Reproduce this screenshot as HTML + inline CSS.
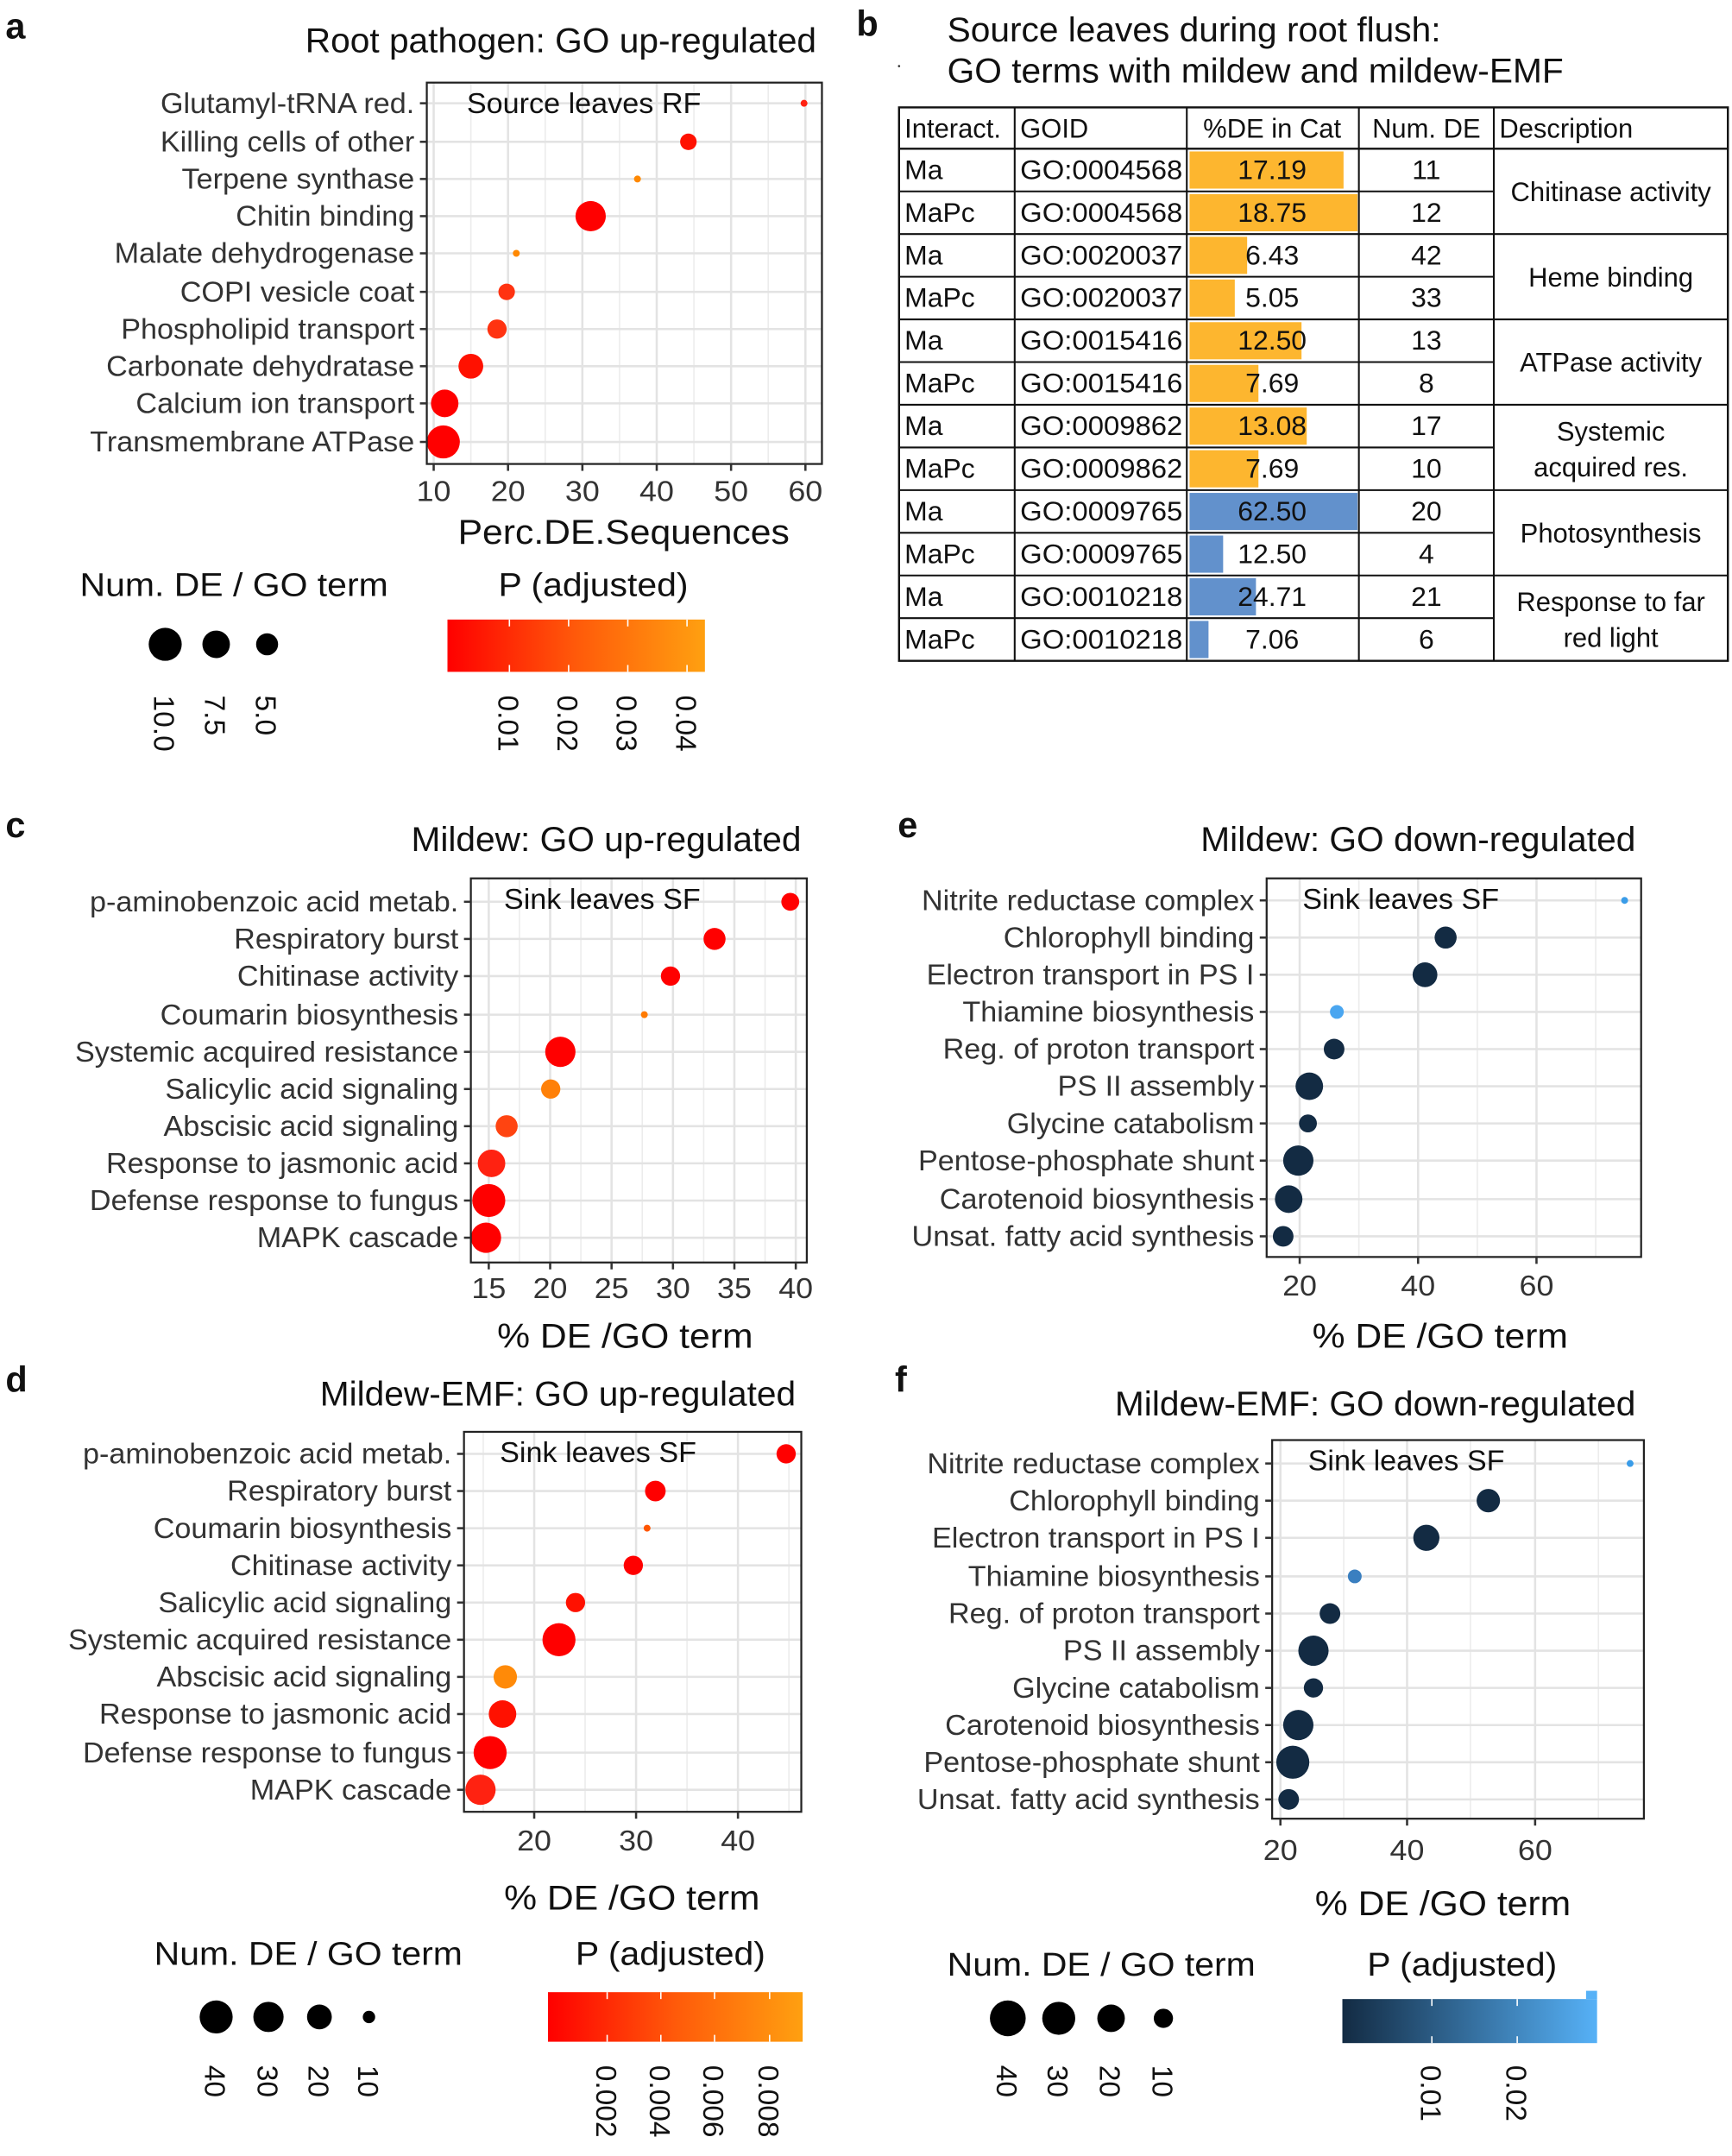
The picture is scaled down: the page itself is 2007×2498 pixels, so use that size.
<!DOCTYPE html>
<html><head><meta charset="utf-8">
<style>
html,body{margin:0;padding:0;background:#fff;}
svg{display:block;}
text{font-family:"Liberation Sans",sans-serif;fill:#111;}
</style></head>
<body>
<svg id="s" xmlns="http://www.w3.org/2000/svg" width="2007" height="2498" viewBox="0 0 1258 1566" preserveAspectRatio="none">
<defs>
<linearGradient id="gO" x1="0" x2="1" y1="0" y2="0"><stop offset="0" stop-color="#ff0000"/><stop offset="0.5" stop-color="#ff5a0a"/><stop offset="1" stop-color="#ffa010"/></linearGradient>
<linearGradient id="gB" x1="0" x2="1" y1="0" y2="0"><stop offset="0" stop-color="#132b43"/><stop offset="1" stop-color="#56b1f7"/></linearGradient>
</defs>
<g id="root"></g>
</svg>
<script>
var out=[];
function T(x,y,s,size,anchor,opts){opts=opts||{};var sx=opts.sx||1.07;var w=opts.bold?'font-weight="bold"':'';var rot=opts.rot?' rotate(90)':'';
out.push('<text transform="translate('+x+','+y+')'+rot+' scale('+sx+',1)" font-size="'+size+'" text-anchor="'+(anchor||'start')+'" '+w+(opts.fill?' style="fill:'+opts.fill+'"':'')+'>'+s+'</text>');}
function L(x1,y1,x2,y2,c,w){out.push('<line x1="'+x1+'" y1="'+y1+'" x2="'+x2+'" y2="'+y2+'" stroke="'+c+'" stroke-width="'+w+'"/>');}
function R(x,y,w,h,f,st,sw){out.push('<rect x="'+x+'" y="'+y+'" width="'+w+'" height="'+h+'" fill="'+f+'"'+(st?' stroke="'+st+'" stroke-width="'+(sw||1)+'"':'')+'/>');}
function C(x,y,r,f){out.push('<circle cx="'+x+'" cy="'+y+'" r="'+r+'" fill="'+f+'"/>');}

function panel(p){
  var b=p.box;
  R(b[0],b[1],b[2]-b[0],b[3]-b[1],'#fff');
  p.minor.forEach(function(x){L(x,b[1],x,b[3],'#ececec',1);});
  p.major.forEach(function(t){L(t[0],b[1],t[0],b[3],'#e3e3e3',1.6);});
  p.rows.forEach(function(r){L(b[0],r[1],b[2],r[1],'#e3e3e3',1.6);});
  p.pts.forEach(function(q){C(q[0],q[1],q[2],q[3]);});
  R(b[0],b[1],b[2]-b[0],b[3]-b[1],'none','#222',1.4);
  p.rows.forEach(function(r){L(b[0]-5,r[1],b[0],r[1],'#333',1.6);T(b[0]-9,r[1]+7,r[0],21,'end',{fill:'#333',sx:1.02});});
  p.major.forEach(function(t){L(t[0],b[3],t[0],b[3]+5,'#333',1.6);T(t[0],p.ty,t[1],21,'middle',{fill:'#333'});});
  T(b[0]+p.insx,b[1]+22,p.inset||'Sink leaves SF',21,'start',{sx:1.02});
  T(p.tx,p.tty,p.title,25,'end',{sx:1.02});
  T(p.ax,p.ay,p.axis,25,'middle');
}
var R_='#ff0000',O_='#ff7a00',D_='#132b43';

// panel a
T(4,28,'a',26,'start',{bold:1,sx:1});
panel({box:[310,60,597,337],
 major:[[315,'10'],[369,'20'],[423,'30'],[477,'40'],[531,'50'],[585,'60']],
 minor:[342,396,450,504,558],
 rows:[['Glutamyl-tRNA red.',75],['Killing cells of other',103],['Terpene synthase',130],['Chitin binding',157],['Malate dehydrogenase',184],['COPI vesicle coat',212],['Phospholipid transport',239],['Carbonate dehydratase',266],['Calcium ion transport',293],['Transmembrane ATPase',321]],
 pts:[[584,75,2.5,'#f21'],[500,103,6,'#f10'],[463,130,2.5,'#f80'],[429,157,11,R_],[375,184,2.5,'#f80'],[368,212,6,'#f31'],[361,239,7,'#f31'],[342,266,9,'#f10'],[323,293,10,R_],[322,321,12,R_]],
 ty:364,title:'Root pathogen: GO up-regulated',tx:593,tty:38,ax:453,ay:395,axis:'Perc.DE.Sequences',insx:29,inset:'Source leaves RF'});

// legend a
T(58,433,'Num. DE / GO term',24,'start');
C(120,468,12,'#000');C(157,468,10,'#000');C(194,468,8,'#000');
T(112,505,'10.0',21,'start',{rot:1,sx:1});T(149,505,'7.5',21,'start',{rot:1,sx:1});T(186,505,'5.0',21,'start',{rot:1,sx:1});
T(362,433,'P (adjusted)',24,'start');
R(325,450,187,38,'url(#gO)');
[370,413,456,499].forEach(function(x,i){L(x,450,x,455,'#fff',1);L(x,483,x,488,'#fff',1);T(x-8,505,'0.0'+(i+1),21,'start',{rot:1,sx:1});});

// panel b
T(622,26,'b',26,'start',{bold:1,sx:1});
T(688,30,'Source leaves during root flush:',25,'start',{sx:1.02});
T(688,60,'GO terms with mildew and mildew-EMF',25,'start',{sx:1.02});
out.push('<circle cx="653" cy="48" r="0.8" fill="#333"/>');
var cols=[653,737,862,987,1085,1255];
var tTop=78,hh=30,rh=31;
var data=[['Ma','GO:0004568','17.19',17.19,'11','o'],['MaPc','GO:0004568','18.75',18.75,'12','o'],
['Ma','GO:0020037','6.43',6.43,'42','o'],['MaPc','GO:0020037','5.05',5.05,'33','o'],
['Ma','GO:0015416','12.50',12.5,'13','o'],['MaPc','GO:0015416','7.69',7.69,'8','o'],
['Ma','GO:0009862','13.08',13.08,'17','o'],['MaPc','GO:0009862','7.69',7.69,'10','o'],
['Ma','GO:0009765','62.50',62.5,'20','b'],['MaPc','GO:0009765','12.50',12.5,'4','b'],
['Ma','GO:0010218','24.71',24.71,'21','b'],['MaPc','GO:0010218','7.06',7.06,'6','b']];
var y0=tTop+hh;
data.forEach(function(d,i){var y=y0+i*rh;var w=d[5]=='o'?d[3]/18.75*122:d[3]/62.5*122;
 R(864,y+2,w,rh-4,d[5]=='o'?'#fdb62f':'#6291cc');});
R(653,tTop,602,y0+12*rh-tTop,'none','#111',1.5);
L(653,y0,1255,y0,'#111',1.5);
for(var i=1;i<12;i++){var y=y0+i*rh;L(653,y,1085,y,'#111',1.3);if(i%2==0)L(1085,y,1255,y,'#111',1.3);}
cols.slice(1,5).forEach(function(x){L(x,tTop,x,y0+12*rh,'#111',1.3);});
T(657,100,'Interact.',20,'start',{sx:0.97});T(741,100,'GOID',20,'start',{sx:0.97});T(924,100,'%DE in Cat',20,'middle',{sx:0.97});T(1036,100,'Num. DE',20,'middle',{sx:0.97});T(1089,100,'Description',20,'start',{sx:0.97});
data.forEach(function(d,i){var y=y0+i*rh+22;T(657,y,d[0],20,'start',{sx:1});T(741,y,d[1],20,'start',{sx:1.03});T(924,y,d[2],20,'middle',{sx:1});T(1036,y,d[4],20,'middle',{sx:1});});
var desc=[['Chitinase activity'],['Heme binding'],['ATPase activity'],['Systemic','acquired res.'],['Photosynthesis'],['Response to far','red light']];
desc.forEach(function(d,i){var yc=y0+i*2*rh+rh;if(d.length==1)T(1170,yc+7,d[0],20,'middle',{sx:0.97});else{T(1170,yc-5,d[0],20,'middle',{sx:0.97});T(1170,yc+21,d[1],20,'middle',{sx:0.97});}});

// panel c
T(4,608,'c',26,'start',{bold:1,sx:1});
function xc(v){return 355+(v-15)*8.92;}
panel({box:[342,638,586,917],
 major:[[xc(15),'15'],[xc(20),'20'],[xc(25),'25'],[xc(30),'30'],[xc(35),'35'],[xc(40),'40']],
 minor:[xc(17.5),xc(22.5),xc(27.5),xc(32.5),xc(37.5)],
 rows:[['p-aminobenzoic acid metab.',655],['Respiratory burst',682],['Chitinase activity',709],['Coumarin biosynthesis',737],['Systemic acquired resistance',764],['Salicylic acid signaling',791],['Abscisic acid signaling',818],['Response to jasmonic acid',845],['Defense response to fungus',872],['MAPK cascade',899]],
 pts:[[574,655,6.5,R_],[519,682,8,R_],[487,709,7,R_],[468,737,2.5,O_],[407,764,11,R_],[400,791,7,'#ff8008'],[368,818,8,'#f41'],[357,845,10,'#f21'],[355,872,12,R_],[353,899,11,R_]],
 ty:943,title:'Mildew: GO up-regulated',tx:582,tty:618,ax:454,ay:979,axis:'% DE /GO term',insx:24});

// panel e
T(652,608,'e',26,'start',{bold:1,sx:1});
panel({box:[920,638,1192,913],
 major:[[944,'20'],[1030,'40'],[1116,'60']],
 minor:[987,1073,1159],
 rows:[['Nitrite reductase complex',654],['Chlorophyll binding',681],['Electron transport in PS I',708],['Thiamine biosynthesis',735],['Reg. of proton transport',762],['PS II assembly',789],['Glycine catabolism',816],['Pentose-phosphate shunt',843],['Carotenoid biosynthesis',871],['Unsat. fatty acid synthesis',898]],
 pts:[[1180,654,2.5,'#3a9ce8'],[1050,681,8,D_],[1035,708,9,D_],[971,735,5,'#4aa6f0'],[969,762,7.5,D_],[951,789,10,D_],[950,816,6.5,D_],[943,843,11,D_],[936,871,10,D_],[932,898,7.5,D_]],
 ty:941,title:'Mildew: GO down-regulated',tx:1188,tty:618,ax:1046,ay:979,axis:'% DE /GO term',insx:26});

// panel d
T(4,1011,'d',26,'start',{bold:1,sx:1});
panel({box:[337,1040,582,1316],
 major:[[388,'20'],[462,'30'],[536,'40']],
 minor:[351,425,499,573],
 rows:[['p-aminobenzoic acid metab.',1056],['Respiratory burst',1083],['Coumarin biosynthesis',1110],['Chitinase activity',1137],['Salicylic acid signaling',1164],['Systemic acquired resistance',1191],['Abscisic acid signaling',1218],['Response to jasmonic acid',1245],['Defense response to fungus',1273],['MAPK cascade',1300]],
 pts:[[571,1056,7,R_],[476,1083,7.5,R_],[470,1110,2.5,'#f50'],[460,1137,7,R_],[418,1164,7,'#f10'],[406,1191,12,R_],[367,1218,8.5,'#ff8a08'],[365,1245,10,'#f10'],[356,1273,12,R_],[349,1300,11,'#f21']],
 ty:1344,title:'Mildew-EMF: GO up-regulated',tx:578,tty:1021,ax:459,ay:1387,axis:'% DE /GO term',insx:26});

// legend d
T(112,1427,'Num. DE / GO term',24,'start');
C(157,1465,12,'#000');C(195,1465,11,'#000');C(232,1465,9,'#000');C(268,1465,4.5,'#000');
[157,195,232,268].forEach(function(x,i){T(x-8,1500,['40','30','20','10'][i],21,'start',{rot:1,sx:1});});
T(418,1427,'P (adjusted)',24,'start');
R(398,1447,185,36,'url(#gO)');
[441,480,519,559].forEach(function(x,i){L(x,1447,x,1452,'#fff',1);L(x,1478,x,1483,'#fff',1);T(x-8,1500,'0.00'+(2*(i+1)),21,'start',{rot:1,sx:1});});

// panel f
T(650,1011,'f',26,'start',{bold:1,sx:1});
panel({box:[924,1046,1194,1321],
 major:[[930,'20'],[1022,'40'],[1115,'60']],
 minor:[976,1068,1161],
 rows:[['Nitrite reductase complex',1063],['Chlorophyll binding',1090],['Electron transport in PS I',1117],['Thiamine biosynthesis',1145],['Reg. of proton transport',1172],['PS II assembly',1199],['Glycine catabolism',1226],['Carotenoid biosynthesis',1253],['Pentose-phosphate shunt',1280],['Unsat. fatty acid synthesis',1307]],
 pts:[[1184,1063,2.5,'#3a9ce8'],[1081,1090,8.5,D_],[1036,1117,9.5,D_],[984,1145,5,'#3a7fc0'],[966,1172,7.5,D_],[954,1199,11,D_],[954,1226,7,D_],[943,1253,11,D_],[939,1280,12,D_],[936,1307,7.5,D_]],
 ty:1351,title:'Mildew-EMF: GO down-regulated',tx:1188,tty:1028,ax:1048,ay:1391,axis:'% DE /GO term',insx:26});

// legend f
T(688,1435,'Num. DE / GO term',24,'start');
C(732,1466,13,'#000');C(769,1466,12,'#000');C(807,1466,10,'#000');C(845,1466,7,'#000');
[732,769,807,845].forEach(function(x,i){T(x-8,1500,['40','30','20','10'][i],21,'start',{rot:1,sx:1});});
T(993,1435,'P (adjusted)',24,'start');
R(975,1452,185,32,'url(#gB)');R(1152,1446,8,6,'#56b1f7');
[1040,1102].forEach(function(x,i){L(x,1452,x,1457,'#fff',1);L(x,1479,x,1484,'#fff',1);T(x-8,1500,'0.0'+(i+1),21,'start',{rot:1,sx:1});});

document.getElementById('root').innerHTML=out.join('');
</script>
</body></html>
